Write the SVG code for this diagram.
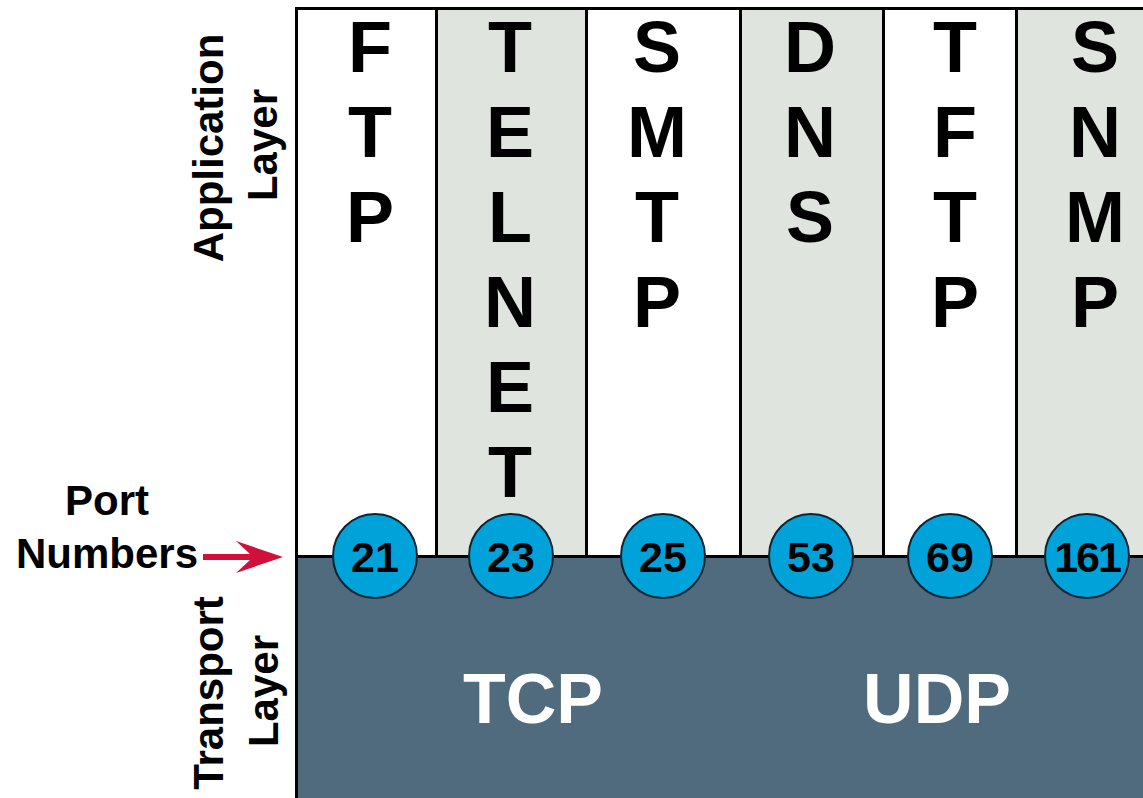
<svg xmlns="http://www.w3.org/2000/svg" width="1143" height="798" viewBox="0 0 1143 798">
<style>
.bg{fill:#ffffff}
.gray{fill:#dfe4df}
.div{stroke:#000;stroke-width:3;fill:none}
.big{font-family:"Liberation Sans",Arial,sans-serif;font-weight:bold;font-size:72px;fill:#000;text-anchor:middle}
.lbl{font-family:"Liberation Sans",Arial,sans-serif;font-weight:bold;font-size:42px;fill:#000;text-anchor:middle}
.port circle{fill:#00a3d9;stroke:#0d2430;stroke-width:2}
.num{font-family:"Liberation Sans",Arial,sans-serif;font-weight:bold;font-size:43px;fill:#000;text-anchor:middle}
.proto{font-family:"Liberation Sans",Arial,sans-serif;font-weight:bold;font-size:70px;fill:#fff;text-anchor:middle}
</style>
<rect class="bg" x="0" y="0" width="1143" height="798"/>

<g id="app-columns">
  <g id="col-ftp">
    <rect x="296" y="8" width="140" height="548" fill="#fff"/>
    <text class="big" x="370" y="72">F</text>
    <text class="big" x="370" y="157">T</text>
    <text class="big" x="370" y="242">P</text>
  </g>
  <g id="col-telnet">
    <rect class="gray" x="436" y="8" width="150" height="548"/>
    <text class="big" x="510" y="72">T</text>
    <text class="big" x="510" y="157">E</text>
    <text class="big" x="510" y="242">L</text>
    <text class="big" x="510" y="327">N</text>
    <text class="big" x="510" y="412">E</text>
    <text class="big" x="510" y="497">T</text>
  </g>
  <g id="col-smtp">
    <rect x="586" y="8" width="154" height="548" fill="#fff"/>
    <text class="big" x="657" y="72">S</text>
    <text class="big" x="657" y="157">M</text>
    <text class="big" x="657" y="242">T</text>
    <text class="big" x="657" y="327">P</text>
  </g>
  <g id="col-dns">
    <rect class="gray" x="740" y="8" width="143" height="548"/>
    <text class="big" x="810" y="72">D</text>
    <text class="big" x="810" y="157">N</text>
    <text class="big" x="810" y="242">S</text>
  </g>
  <g id="col-tftp">
    <rect x="883" y="8" width="133" height="548" fill="#fff"/>
    <text class="big" x="955" y="72">T</text>
    <text class="big" x="955" y="157">F</text>
    <text class="big" x="955" y="242">T</text>
    <text class="big" x="955" y="327">P</text>
  </g>
  <g id="col-snmp">
    <rect class="gray" x="1016" y="8" width="130" height="548"/>
    <text class="big" x="1095" y="72">S</text>
    <text class="big" x="1095" y="157">N</text>
    <text class="big" x="1095" y="242">M</text>
    <text class="big" x="1095" y="327">P</text>
  </g>
</g>

<g id="transport-layer">
  <rect x="296" y="556" width="850" height="245" fill="#4f6b7d"/>
  <text class="proto" x="533" y="723">TCP</text>
  <text class="proto" x="937" y="723">UDP</text>
</g>

<g id="grid-lines">
  <path class="div" d="M296 8.5H1146 M296 556.5H1146 M296.5 7V798 M436.5 8V556 M586.5 8V556 M740.5 8V556 M883.5 8V556 M1016.5 8V556"/>
</g>

<g id="ports" class="port">
  <g id="port-21"><circle cx="375" cy="556" r="42"/><text class="num" x="375" y="572">21</text></g>
  <g id="port-23"><circle cx="511" cy="556" r="42"/><text class="num" x="511" y="572">23</text></g>
  <g id="port-25"><circle cx="663" cy="556" r="42"/><text class="num" x="663" y="572">25</text></g>
  <g id="port-53"><circle cx="811" cy="556" r="42"/><text class="num" x="811" y="572">53</text></g>
  <g id="port-69"><circle cx="950" cy="556" r="42"/><text class="num" x="950" y="572">69</text></g>
  <g id="port-161"><circle cx="1087" cy="556" r="42"/><text class="num" x="1087" y="572" letter-spacing="-2">161</text></g>
</g>

<g id="labels">
  <g id="label-application">
    <text class="lbl" transform="translate(223,148) rotate(-90)">Application</text>
    <text class="lbl" transform="translate(277,145) rotate(-90)">Layer</text>
  </g>
  <g id="label-transport">
    <text class="lbl" transform="translate(223,693) rotate(-90)">Transport</text>
    <text class="lbl" transform="translate(278,691) rotate(-90)">Layer</text>
  </g>
  <g id="label-port-numbers">
    <text class="lbl" x="107" y="515">Port</text>
    <text class="lbl" x="107" y="568">Numbers</text>
  </g>
</g>

<g id="connectors">
  <polygon fill="#d0103a" points="203,554 250,554 236,541 283,557 236,573 250,560 203,560"/>
</g>
</svg>
